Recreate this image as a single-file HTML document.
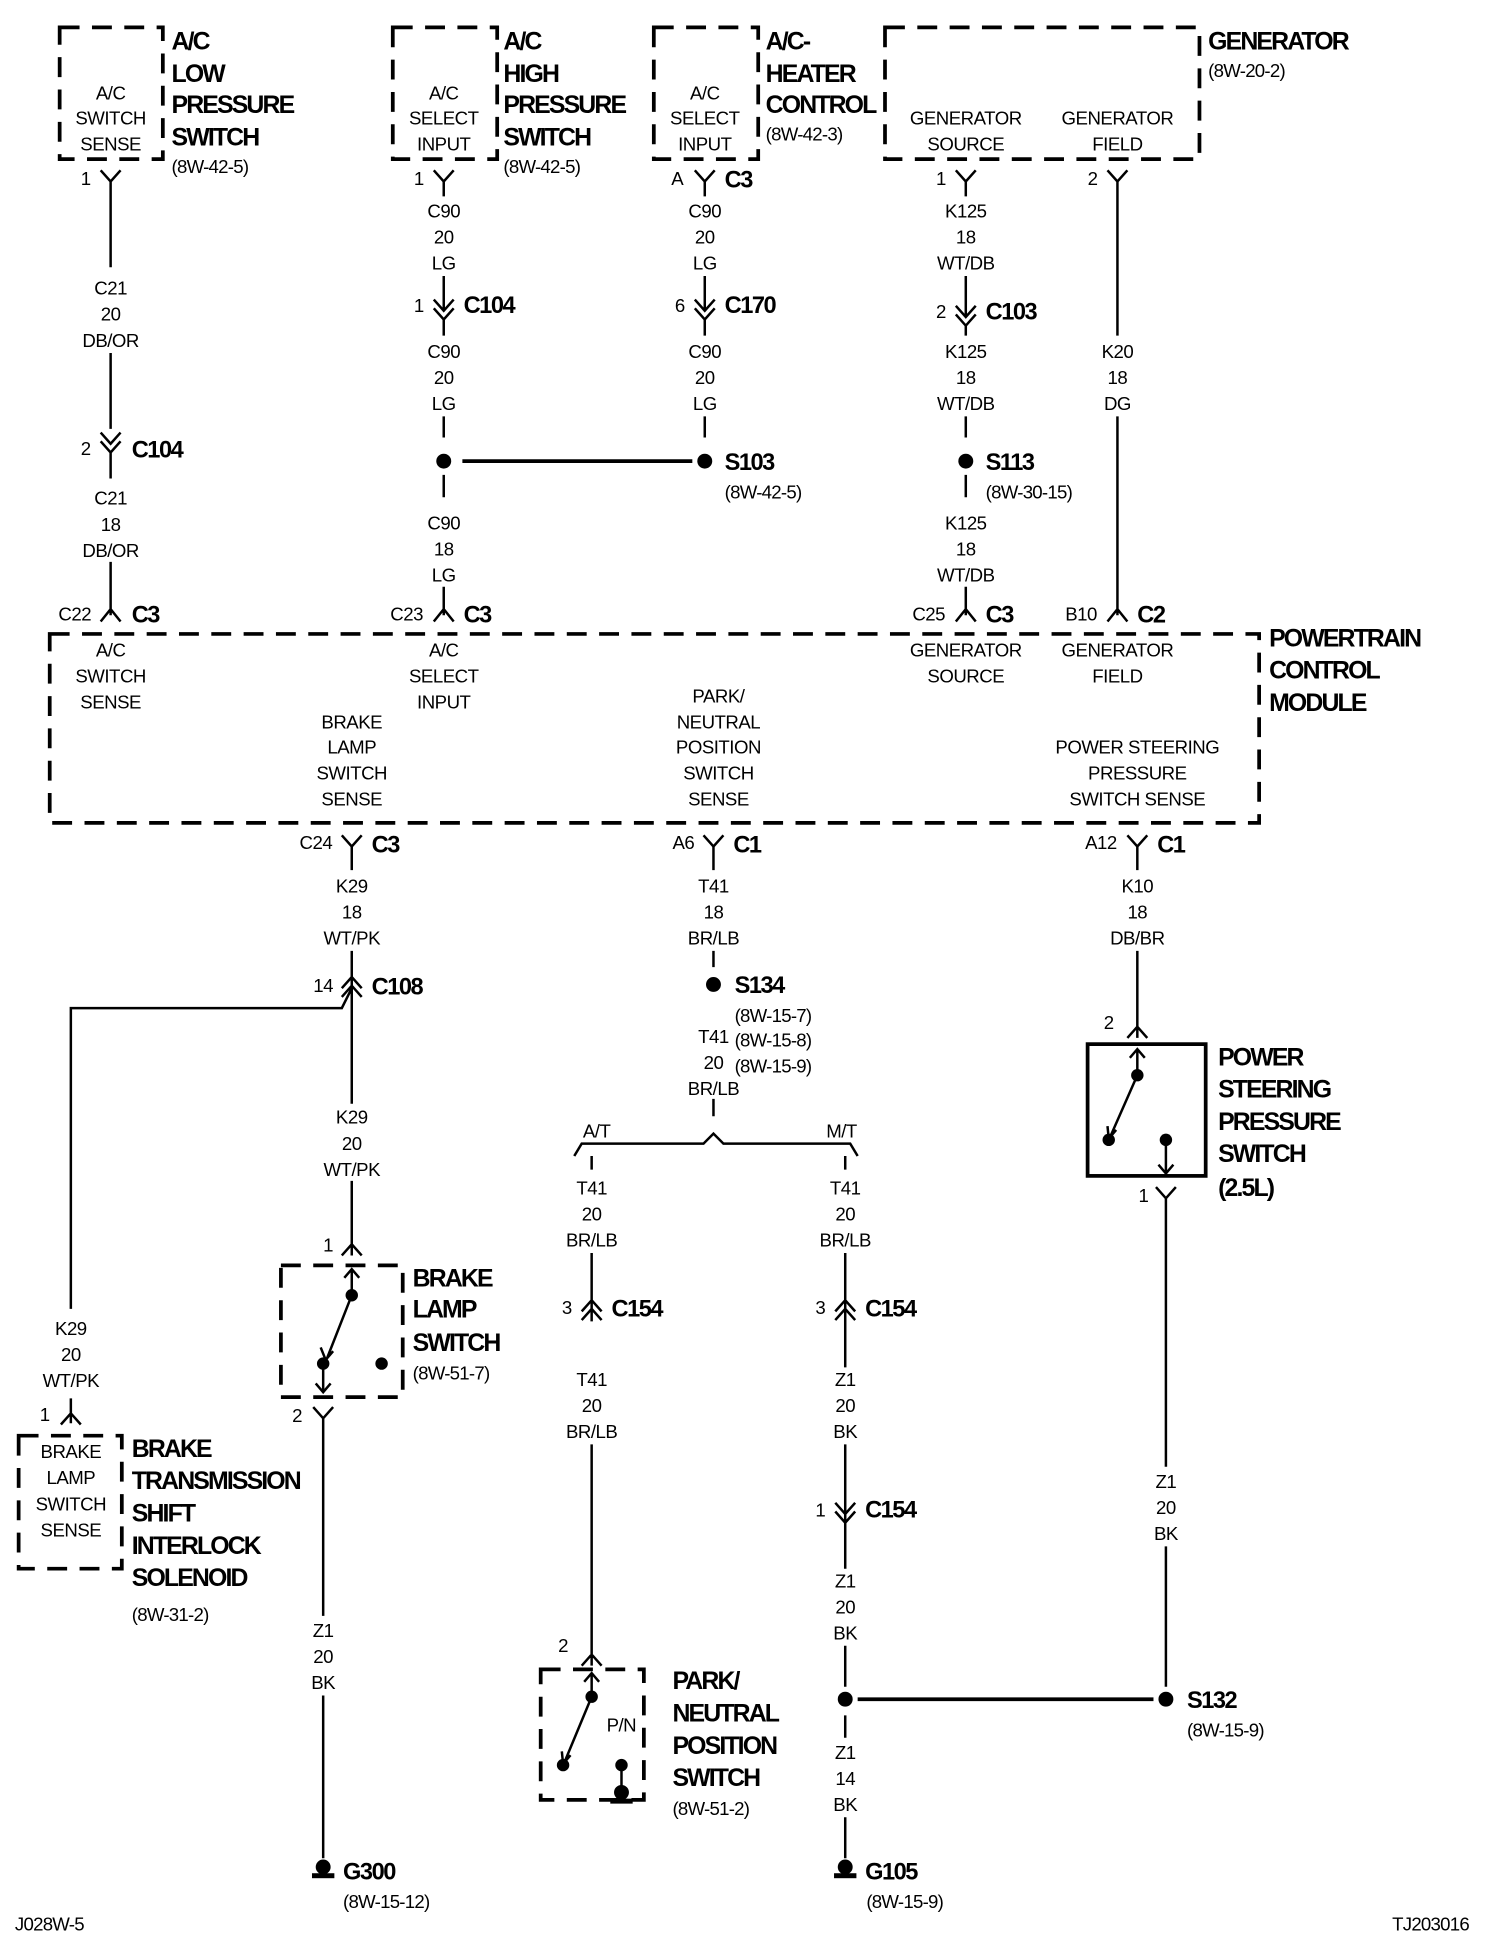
<!DOCTYPE html>
<html><head><meta charset="utf-8"><style>
html,body{margin:0;padding:0;background:#fff}
svg{display:block}
text{font-family:"Liberation Sans Narrow","Liberation Sans",sans-serif;fill:#000}
.t{font-size:15px;text-anchor:middle;letter-spacing:-0.4px}
.l{font-size:15px;letter-spacing:-0.4px}
.b{font-size:20px;font-weight:bold;letter-spacing:-1.5px}
.c{font-size:19px;font-weight:bold;letter-spacing:-1.2px}
.s{font-size:15px;letter-spacing:-0.6px}
</style></head><body>
<svg width="1504" height="1936" viewBox="0 0 1210 1557.5" preserveAspectRatio="none" xmlns="http://www.w3.org/2000/svg">
<g fill="none" stroke="#000" stroke-width="3" stroke-dasharray="16,10">
<rect x="48" y="22" width="83" height="106"/>
<rect x="316" y="22" width="84" height="106"/>
<rect x="526" y="22" width="84" height="106"/>
<rect x="712" y="22" width="253" height="106"/>
<rect x="40" y="510" width="973" height="152"/>
<rect x="226" y="1018" width="98" height="106"/>
<rect x="15" y="1155" width="83" height="107"/>
<rect x="435" y="1343" width="83" height="105"/>
</g>
<rect x="875" y="840" width="95" height="106" fill="none" stroke="#000" stroke-width="3"/>
<g fill="none" stroke="#000" stroke-width="2">
<path d="M81 137L89 146L97 137M89 146V215M89 284V345M81 348L89 357L97 348M81 355L89 364L97 355M89 364V385M89 452V495M81 500L89 490L97 500"/>
<path d="M349 137L357 146L365 137M357 146V158M357 222V250M349 241L357 250L365 241M349 248L357 257L365 248M357 257V270M357 335V352M357 382V400M357 472V495M349 500L357 490L365 500"/>
<path d="M559 137L567 146L575 137M567 146V158M567 222V250M559 241L567 250L575 241M559 248L567 257L575 248M567 257V270M567 335V352"/>
<path d="M372 371H557" stroke-width="3"/>
<path d="M769 137L777 146L785 137M777 146V158M777 222V255M769 246L777 255L785 246M769 253L777 262L785 253M777 262V270M777 335V352M777 382V400M777 472V495M769 500L777 490L785 500"/>
<path d="M891 137L899 146L907 137M899 146V270M899 335V495M891 500L899 490L907 500"/>
<path d="M275 672L283 681L291 672M283 681V700M566 672L574 681L582 672M574 681V700M907 672L915 681L923 672M915 681V700"/>
<path d="M283 765V888M275 795L283 786L291 795M275 802L283 793L291 802M57 1053V811H275L283 795M283 950V1010M275 1010L283 1001L291 1010"/>
<path d="M283 1022V1042M277 1028L283 1021L289 1028M283 1042L263 1093M258 1084L262 1094L268 1087M260 1097V1120M254 1113L260 1120L266 1113M252 1132L260 1141L268 1132M260 1141V1300M260 1364V1495"/>
<path d="M57 1125V1145M49 1146L57 1137L65 1146"/>
<path d="M574 765V778M574 884V898M462 930L468 920H566L574 912L582 920H684L690 930M476 930V941M680 930V941M476 1008V1063M468 1055L476 1046L484 1055M468 1062L476 1053L484 1062M476 1162V1340M468 1340L476 1331L484 1340"/>
<path d="M476 1347V1365M470 1353L476 1346L482 1353M476 1365L454 1418M452 1409L453 1419L459 1412M500 1420V1438"/>
<path d="M680 1008V1063M672 1055L680 1046L688 1055M672 1062L680 1053L688 1062M680 1063V1100M680 1162V1225M672 1209L680 1218L688 1209M672 1216L680 1225L688 1216M680 1225V1262M680 1324V1357M680 1380V1398M680 1462V1495"/>
<path d="M690 1367H928" stroke-width="3"/>
<path d="M915 765V835M907 835L915 826L923 835M915 845V865M909 851L915 844L921 851M915 865L893 915M891 906L892 916L898 909M938 917V944M932 937L938 944L944 937M930 955L938 964L946 955M938 964V1180M938 1244V1357"/>
</g>
<g fill="#000">
<circle cx="357" cy="371" r="6"/><circle cx="567" cy="371" r="6"/><circle cx="777" cy="371" r="6"/>
<circle cx="574" cy="792" r="6"/>
<circle cx="283" cy="1042" r="5"/><circle cx="260" cy="1097" r="5"/><circle cx="307" cy="1097" r="5"/>
<circle cx="476" cy="1365" r="5"/><circle cx="453" cy="1420" r="5"/><circle cx="500" cy="1420" r="5"/>
<circle cx="915" cy="865" r="5"/><circle cx="892" cy="917" r="5"/><circle cx="938" cy="917" r="5"/>
<circle cx="680" cy="1367" r="6"/><circle cx="938" cy="1367" r="6"/>
<circle cx="260" cy="1502" r="6"/><rect x="251" y="1507" width="18" height="4"/>
<circle cx="680" cy="1502" r="6"/><rect x="671" y="1507" width="18" height="4"/>
<circle cx="500" cy="1442" r="6"/><rect x="491" y="1447" width="18" height="4"/>
</g>
<text class="t" x="89" y="80">A/C</text><text class="t" x="89" y="100">SWITCH</text><text class="t" x="89" y="121">SENSE</text>
<text class="b" x="138" y="40">A/C</text><text class="b" x="138" y="66">LOW</text><text class="b" x="138" y="91">PRESSURE</text><text class="b" x="138" y="117">SWITCH</text><text class="s" x="138" y="139">(8W-42-5)</text>
<text class="t" x="357" y="80">A/C</text><text class="t" x="357" y="100">SELECT</text><text class="t" x="357" y="121">INPUT</text>
<text class="b" x="405" y="40">A/C</text><text class="b" x="405" y="66">HIGH</text><text class="b" x="405" y="91">PRESSURE</text><text class="b" x="405" y="117">SWITCH</text><text class="s" x="405" y="139">(8W-42-5)</text>
<text class="t" x="567" y="80">A/C</text><text class="t" x="567" y="100">SELECT</text><text class="t" x="567" y="121">INPUT</text>
<text class="b" x="616" y="40">A/C-</text><text class="b" x="616" y="66">HEATER</text><text class="b" x="616" y="91">CONTROL</text><text class="s" x="616" y="113">(8W-42-3)</text>
<text class="t" x="777" y="100">GENERATOR</text><text class="t" x="777" y="121">SOURCE</text>
<text class="t" x="899" y="100">GENERATOR</text><text class="t" x="899" y="121">FIELD</text>
<text class="b" x="972" y="40">GENERATOR</text><text class="s" x="972" y="62">(8W-20-2)</text>
<text class="l" x="65" y="149">1</text>
<text class="l" x="333" y="149">1</text>
<text class="l" x="540" y="149">A</text><text class="c" x="583" y="151">C3</text>
<text class="l" x="753" y="149">1</text>
<text class="l" x="875" y="149">2</text>
<text class="t" x="89" y="237">C21</text><text class="t" x="89" y="258">20</text><text class="t" x="89" y="279">DB/OR</text>
<text class="l" x="65" y="366">2</text><text class="c" x="106" y="368">C104</text>
<text class="t" x="89" y="406">C21</text><text class="t" x="89" y="427">18</text><text class="t" x="89" y="448">DB/OR</text>
<text class="l" x="47" y="499">C22</text><text class="c" x="106" y="501">C3</text>
<text class="t" x="357" y="175">C90</text><text class="t" x="357" y="196">20</text><text class="t" x="357" y="217">LG</text>
<text class="l" x="333" y="251">1</text><text class="c" x="373" y="252">C104</text>
<text class="t" x="357" y="288">C90</text><text class="t" x="357" y="309">20</text><text class="t" x="357" y="330">LG</text>
<text class="t" x="357" y="426">C90</text><text class="t" x="357" y="447">18</text><text class="t" x="357" y="468">LG</text>
<text class="l" x="314" y="499">C23</text><text class="c" x="373" y="501">C3</text>
<text class="t" x="567" y="175">C90</text><text class="t" x="567" y="196">20</text><text class="t" x="567" y="217">LG</text>
<text class="l" x="543" y="251">6</text><text class="c" x="583" y="252">C170</text>
<text class="t" x="567" y="288">C90</text><text class="t" x="567" y="309">20</text><text class="t" x="567" y="330">LG</text>
<text class="c" x="583" y="378">S103</text><text class="s" x="583" y="401">(8W-42-5)</text>
<text class="t" x="777" y="175">K125</text><text class="t" x="777" y="196">18</text><text class="t" x="777" y="217">WT/DB</text>
<text class="l" x="753" y="256">2</text><text class="c" x="793" y="257">C103</text>
<text class="t" x="777" y="288">K125</text><text class="t" x="777" y="309">18</text><text class="t" x="777" y="330">WT/DB</text>
<text class="c" x="793" y="378">S113</text><text class="s" x="793" y="401">(8W-30-15)</text>
<text class="t" x="777" y="426">K125</text><text class="t" x="777" y="447">18</text><text class="t" x="777" y="468">WT/DB</text>
<text class="l" x="734" y="499">C25</text><text class="c" x="793" y="501">C3</text>
<text class="t" x="899" y="288">K20</text><text class="t" x="899" y="309">18</text><text class="t" x="899" y="330">DG</text>
<text class="l" x="857" y="499">B10</text><text class="c" x="915" y="501">C2</text>
<text class="b" x="1021" y="520">POWERTRAIN</text><text class="b" x="1021" y="546">CONTROL</text><text class="b" x="1021" y="572">MODULE</text>
<text class="t" x="89" y="528">A/C</text><text class="t" x="89" y="549">SWITCH</text><text class="t" x="89" y="570">SENSE</text>
<text class="t" x="357" y="528">A/C</text><text class="t" x="357" y="549">SELECT</text><text class="t" x="357" y="570">INPUT</text>
<text class="t" x="777" y="528">GENERATOR</text><text class="t" x="777" y="549">SOURCE</text>
<text class="t" x="899" y="528">GENERATOR</text><text class="t" x="899" y="549">FIELD</text>
<text class="t" x="283" y="586">BRAKE</text><text class="t" x="283" y="606">LAMP</text><text class="t" x="283" y="627">SWITCH</text><text class="t" x="283" y="648">SENSE</text>
<text class="t" x="578" y="565">PARK/</text><text class="t" x="578" y="586">NEUTRAL</text><text class="t" x="578" y="606">POSITION</text><text class="t" x="578" y="627">SWITCH</text><text class="t" x="578" y="648">SENSE</text>
<text class="t" x="915" y="606">POWER STEERING</text><text class="t" x="915" y="627">PRESSURE</text><text class="t" x="915" y="648">SWITCH SENSE</text>
<text class="l" x="241" y="683">C24</text><text class="c" x="299" y="686">C3</text>
<text class="l" x="541" y="683">A6</text><text class="c" x="590" y="686">C1</text>
<text class="l" x="873" y="683">A12</text><text class="c" x="931" y="686">C1</text>
<text class="t" x="283" y="718">K29</text><text class="t" x="283" y="739">18</text><text class="t" x="283" y="760">WT/PK</text>
<text class="l" x="252" y="798">14</text><text class="c" x="299" y="800">C108</text>
<text class="t" x="283" y="904">K29</text><text class="t" x="283" y="925">20</text><text class="t" x="283" y="946">WT/PK</text>
<text class="l" x="260" y="1007">1</text>
<text class="b" x="332" y="1035">BRAKE</text><text class="b" x="332" y="1060">LAMP</text><text class="b" x="332" y="1087">SWITCH</text><text class="s" x="332" y="1110">(8W-51-7)</text>
<text class="l" x="235" y="1144">2</text>
<text class="t" x="260" y="1317">Z1</text><text class="t" x="260" y="1338">20</text><text class="t" x="260" y="1359">BK</text>
<text class="c" x="276" y="1512">G300</text><text class="s" x="276" y="1535">(8W-15-12)</text>
<text class="t" x="57" y="1074">K29</text><text class="t" x="57" y="1095">20</text><text class="t" x="57" y="1116">WT/PK</text>
<text class="l" x="32" y="1143">1</text>
<text class="t" x="57" y="1173">BRAKE</text><text class="t" x="57" y="1194">LAMP</text><text class="t" x="57" y="1215">SWITCH</text><text class="t" x="57" y="1236">SENSE</text>
<text class="b" x="106" y="1172">BRAKE</text><text class="b" x="106" y="1198">TRANSMISSION</text><text class="b" x="106" y="1224">SHIFT</text><text class="b" x="106" y="1250">INTERLOCK</text><text class="b" x="106" y="1276">SOLENOID</text><text class="s" x="106" y="1304">(8W-31-2)</text>
<text class="t" x="574" y="718">T41</text><text class="t" x="574" y="739">18</text><text class="t" x="574" y="760">BR/LB</text>
<text class="c" x="591" y="799">S134</text>
<text class="s" x="591" y="822">(8W-15-7)</text><text class="s" x="591" y="842">(8W-15-8)</text><text class="s" x="591" y="863">(8W-15-9)</text>
<text class="t" x="574" y="839">T41</text><text class="t" x="574" y="860">20</text><text class="t" x="574" y="881">BR/LB</text>
<text class="t" x="480" y="915">A/T</text><text class="t" x="677" y="915">M/T</text>
<text class="t" x="476" y="961">T41</text><text class="t" x="476" y="982">20</text><text class="t" x="476" y="1003">BR/LB</text>
<text class="t" x="680" y="961">T41</text><text class="t" x="680" y="982">20</text><text class="t" x="680" y="1003">BR/LB</text>
<text class="l" x="452" y="1057">3</text><text class="c" x="492" y="1059">C154</text>
<text class="l" x="656" y="1057">3</text><text class="c" x="696" y="1059">C154</text>
<text class="t" x="476" y="1115">T41</text><text class="t" x="476" y="1136">20</text><text class="t" x="476" y="1157">BR/LB</text>
<text class="l" x="449" y="1329">2</text>
<text class="l" x="488" y="1393">P/N</text>
<text class="b" x="541" y="1359">PARK/</text><text class="b" x="541" y="1385">NEUTRAL</text><text class="b" x="541" y="1411">POSITION</text><text class="b" x="541" y="1437">SWITCH</text><text class="s" x="541" y="1460">(8W-51-2)</text>
<text class="t" x="680" y="1115">Z1</text><text class="t" x="680" y="1136">20</text><text class="t" x="680" y="1157">BK</text>
<text class="l" x="656" y="1220">1</text><text class="c" x="696" y="1221">C154</text>
<text class="t" x="680" y="1277">Z1</text><text class="t" x="680" y="1298">20</text><text class="t" x="680" y="1319">BK</text>
<text class="t" x="680" y="1415">Z1</text><text class="t" x="680" y="1436">14</text><text class="t" x="680" y="1457">BK</text>
<text class="c" x="696" y="1512">G105</text><text class="s" x="697" y="1535">(8W-15-9)</text>
<text class="t" x="915" y="718">K10</text><text class="t" x="915" y="739">18</text><text class="t" x="915" y="760">DB/BR</text>
<text class="l" x="888" y="828">2</text>
<text class="b" x="980" y="857">POWER</text><text class="b" x="980" y="883">STEERING</text><text class="b" x="980" y="909">PRESSURE</text><text class="b" x="980" y="935">SWITCH</text><text class="b" x="980" y="962">(2.5L)</text>
<text class="l" x="916" y="967">1</text>
<text class="t" x="938" y="1197">Z1</text><text class="t" x="938" y="1218">20</text><text class="t" x="938" y="1239">BK</text>
<text class="c" x="955" y="1374">S132</text><text class="s" x="955" y="1397">(8W-15-9)</text>
<text class="s" x="12" y="1553">J028W-5</text>
<text class="s" x="1120" y="1553">TJ203016</text>
</svg>
</body></html>
